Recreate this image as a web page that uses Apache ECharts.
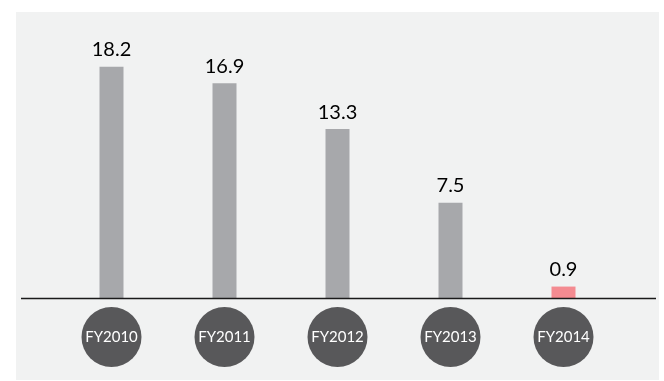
<!DOCTYPE html>
<html>
<head>
<meta charset="utf-8">
<script src="https://cdn.jsdelivr.net/npm/echarts@6/dist/echarts.min.js"></script>
<style>
  html, body { margin: 0; padding: 0; background: #ffffff; }
  #chart { width: 664px; height: 381px; }
</style>
</head>
<body>
<div id="chart"></div>
<script>
// Fiscal years and their values
const years = ['FY2010', 'FY2011', 'FY2012', 'FY2013', 'FY2014'];
const values = [18.2, 16.9, 13.3, 7.5, 0.9];
const highlightYear = 'FY2014';

const barGray = '#a7a8ab';
const barPink = '#f48b91';
const fontFamily = 'Lato, "Open Sans", sans-serif';

const chart = echarts.init(document.getElementById('chart'), null, { renderer: 'canvas' });

const seriesData = years.map((y, i) => ({
  value: values[i],
  itemStyle: { color: y === highlightYear ? barPink : barGray }
}));

chart.setOption({
  backgroundColor: '#ffffff',
  animation: false,
  grid: { left: 55, right: 44, top: 44, bottom: 83 },
  xAxis: {
    type: 'category',
    data: years,
    axisLine: { show: false },
    axisTick: { show: false },
    axisLabel: {
      margin: 9,
      color: '#ffffff',
      fontSize: 15,
      fontFamily: fontFamily,
      backgroundColor: '#58585a',
      borderRadius: 30,
      width: 60,
      height: 60,
      lineHeight: 60,
      align: 'center'
    }
  },
  yAxis: {
    type: 'value',
    min: 0,
    max: 20,
    show: false,
    splitLine: { show: false }
  },
  series: [{
    type: 'bar',
    data: seriesData,
    barWidth: 24,
    label: {
      show: true,
      position: 'top',
      distance: 7,
      color: '#000000',
      fontSize: 20,
      fontFamily: fontFamily
    }
  }]
});

// Panel background and baseline drawn across the full panel width
const baseY = chart.convertToPixel({ yAxisIndex: 0 }, 0);
chart.setOption({
  graphic: [
    {
      type: 'rect',
      z: -10,
      silent: true,
      shape: { x: 16, y: 12, width: 643, height: 368 },
      style: { fill: '#f1f2f2' }
    },
    {
      type: 'line',
      z: 10,
      silent: true,
      shape: { x1: 21, y1: baseY + 0.5, x2: 656, y2: baseY + 0.5 },
      style: { stroke: '#1a1a1a', lineWidth: 1.5 }
    }
  ]
});
</script>
</body>
</html>
